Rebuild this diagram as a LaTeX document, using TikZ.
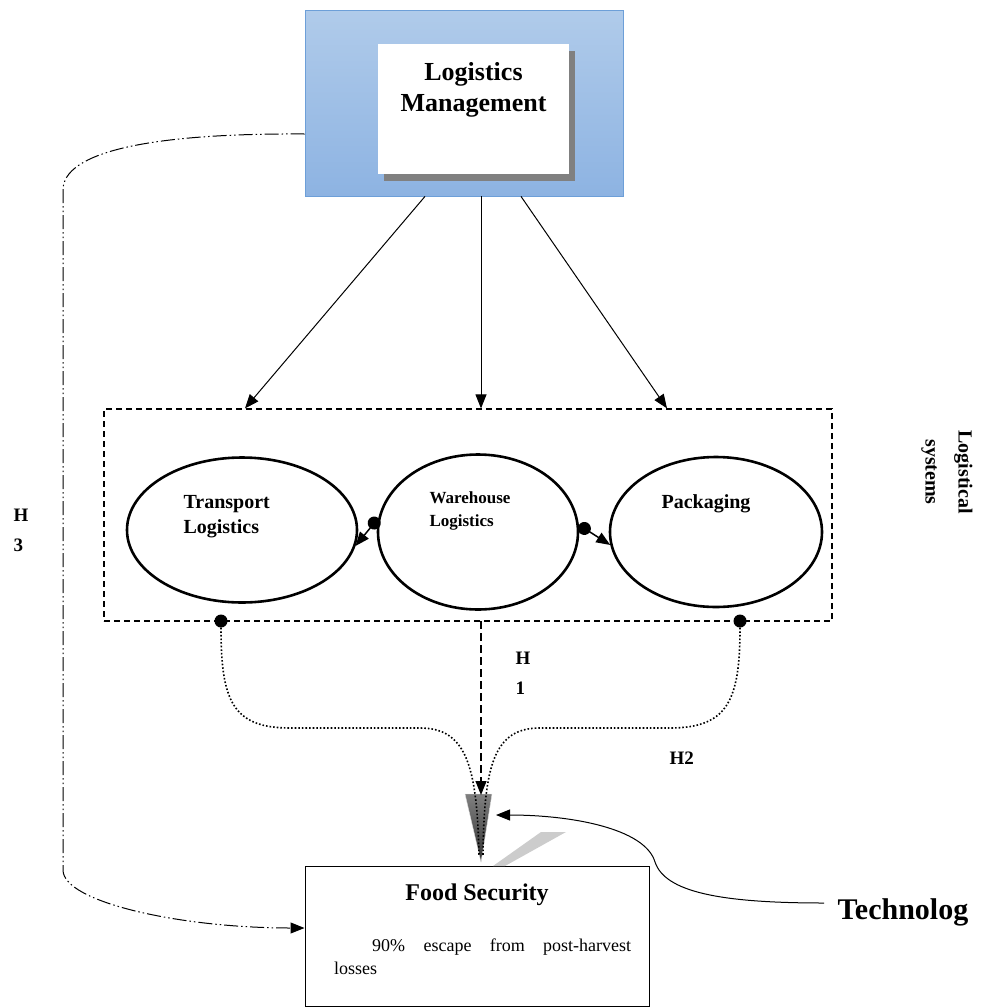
\documentclass[tikz,border=0pt]{standalone}
\usepackage{fontspec}
\setmainfont{Liberation Serif}
\usetikzlibrary{shapes.geometric, arrows.meta, positioning, calc, shadows}
\definecolor{mgmtblue}{HTML}{8DB3E2}
\definecolor{mgmtlight}{HTML}{B0CBEA}
\definecolor{mgmtedge}{HTML}{6D9FD8}

\begin{document}
\begin{tikzpicture}[
    x=1pt, y=-1pt,
    >={Triangle[length=14pt,width=11pt]},
    mgmtbox/.style={rectangle, draw=mgmtedge, line width=0.8pt, top color=mgmtlight, bottom color=mgmtblue, minimum width=318pt, minimum height=186pt},
    innerbox/.style={rectangle, fill=white, minimum width=191pt, minimum height=130pt, drop shadow={shadow xshift=6pt, shadow yshift=-7pt, fill=black!50, opacity=1}},
    sysbox/.style={rectangle, draw, dash pattern=on 6pt off 4pt, line width=1.2pt, minimum width=728pt, minimum height=212pt},
    logellipse/.style={ellipse, draw, line width=2.6pt, inner sep=0pt},
    elltext/.style={anchor=west, align=left, font=\fontsize{20}{25}\selectfont\bfseries},
    fsbox/.style={rectangle, draw, line width=1pt, minimum width=344pt, minimum height=140pt},
    joint/.style={circle, fill, inner sep=0pt, minimum size=13pt},
    hyplabel/.style={anchor=west, align=left, font=\fontsize{19}{30}\selectfont\bfseries},
    flow/.style={->, line width=1pt},
    linkarrow/.style={{Circle[length=13pt]}-{Triangle[length=14pt,width=11pt]}, line width=1.5pt},
    dotline/.style={dotted, line width=1.6pt},
    hthree/.style={->, line width=1pt, dash pattern=on 14pt off 3pt on 1.5pt off 3pt on 1.5pt off 3pt}
]
\useasboundingbox (0,0) rectangle (981,1007);

% management block
\node[mgmtbox] (mgmt) at (464,103) {};
\node[innerbox] (mgmtin) at (473.5,109) {};
\node[anchor=north, align=center, font=\fontsize{26}{31}\selectfont\bfseries] (mgmtlabel) at ([yshift=-15pt]mgmtin.north) {Logistics\\Management};

% logistical systems
\node[sysbox] (sys) at (468,515) {};
\node[rotate=-90, align=center, font=\fontsize{20}{33}\selectfont\bfseries] (syslabel) at (947,472) {Logistical\\systems};

\node[logellipse, minimum width=230pt, minimum height=145pt] (tr) at (242,530) {};
\node[logellipse, minimum width=200pt, minimum height=155pt] (wh) at (478,532) {};
\node[logellipse, minimum width=212pt, minimum height=150pt] (pk) at (716,532) {};
\node[elltext] (trtext) at (180,517) {Transport\\Logistics};
\node[elltext, font=\fontsize{17}{23}\selectfont\bfseries] (whtext) at (426,511) {Warehouse\\Logistics};
\node[elltext] (pktext) at (658,504) {Packaging};

\draw[linkarrow] (wh.172) -- (tr.-8);
\draw[linkarrow] (wh.4) -- (pk.-173);

% from management to the systems
\draw[flow] ([xshift=-39pt]mgmt.south) -- ([xshift=-223pt]sys.north);
\draw[flow] ([xshift=17pt]mgmt.south) -- ([xshift=13pt]sys.north);
\draw[flow] ([xshift=57pt]mgmt.south) -- ([xshift=199pt]sys.north);

% food security
\node[fsbox] (fs) at (477,936) {};
\node[font=\fontsize{24}{28}\selectfont\bfseries] (fstitle) at (477,895) {Food Security};
\node[anchor=north west, text width=297pt, align=justify, inner sep=0pt, font=\fontsize{18}{23}\selectfont] (fsbody) at (334,939) {\hspace*{38pt}90\% escape from post-harvest\linebreak losses};

% arrow head shape above food security
\fill[black!20] (541,832) -- (566,832) -- (505,866) -- (493,866) -- cycle;
\shade[top color=black!50, bottom color=black!80, draw=black!12] (465,794) -- (492,794) -- (481,862) -- cycle;

% hypotheses
\node[joint] (tdot) at (221,621) {};
\node[joint] (pdot) at (740,621) {};
\coordinate (h1start) at (481,621);
\coordinate (fstip) at (481,795);

\draw[dotline] (tdot) .. controls (221,700) and (232,728) .. (290,728) -- (420,728) .. controls (466,728) and (477,765) .. (479,855);
\draw[dotline] (pdot) .. controls (740,700) and (728,728) .. (670,728) -- (540,728) .. controls (494,728) and (484,765) .. (483,855);
\draw[dash pattern=on 8pt off 4pt, line width=1.2pt, ->] (h1start) -- (fstip);

\node[hyplabel] (h1) at (512,673) {H\\1};
\node[hyplabel] (h2) at (666,758) {H2};
\node[hyplabel] (h3) at (10,530) {H\\3};

\draw[hthree] ([yshift=-31pt]mgmt.west) .. controls (150,133) and (63,152) .. (63,190) -- (63,870) .. controls (63,902) and (180,928) .. ([yshift=8pt]fs.west);

% technology
\node[font=\fontsize{30}{34}\selectfont\bfseries] (tech) at (903,912) {Technolog};
\coordinate (techtip) at (496,815);
\draw[->, line width=1pt] ([xshift=-10pt,yshift=9pt]tech.west) .. controls (720,903) and (665,892) .. (655,862) .. controls (645,828) and (570,815) .. (techtip);

\end{tikzpicture}
\end{document}
